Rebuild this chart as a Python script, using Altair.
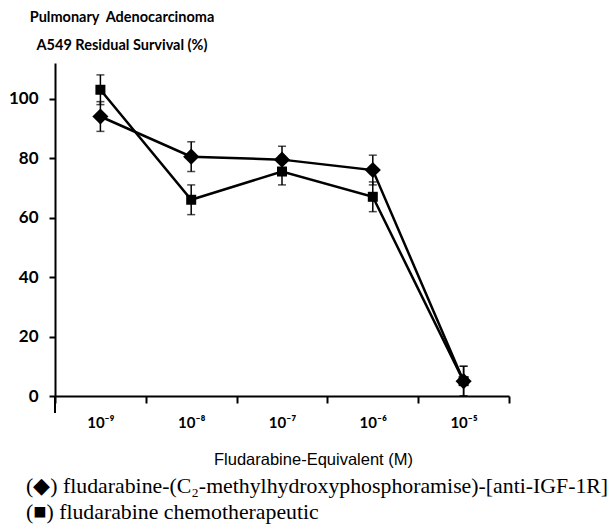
import altair as alt
import pandas as pd

conc = ["10⁻⁹", "10⁻⁸", "10⁻⁷", "10⁻⁶", "10⁻⁵"]
conj_mean = [94, 80.5, 79.5, 76, 5]
conj_err = [5, 5, 4.5, 5, 5]
flu_mean = [103, 66, 75.5, 67, 5]
flu_err = [5, 5, 4.5, 5, 5]

series_conj = "fludarabine-(C2-methylhydroxyphosphoramise)-[anti-IGF-1R]"
series_flu = "fludarabine chemotherapeutic"

rows = []
for c, m, e in zip(conc, conj_mean, conj_err):
    rows.append({"conc": c, "series": series_conj, "mean": m, "lo": m - e, "hi": m + e})
for c, m, e in zip(conc, flu_mean, flu_err):
    rows.append({"conc": c, "series": series_flu, "mean": m, "lo": m - e, "hi": m + e})
df = pd.DataFrame(rows)

W, H = 454, 333

xenc = alt.X(
    "conc:O",
    sort=conc,
    bandPosition=0.5,
    scale=alt.Scale(type="band", paddingInner=0, paddingOuter=0),
    axis=alt.Axis(
        title="Fludarabine-Equivalent (M)",
        titleFont="Liberation Sans",
        titleFontSize=16.5,
        titleFontWeight="normal",
        titleColor="black",
        titleX=258,
        titleY=68,
        titleBaseline="alphabetic",
        titleAnchor="middle",
        labelFont="Lato",
        labelFontSize=15,
        labelFontWeight="bold",
        labelColor="black",
        labelAngle=0,
        labelPadding=19,
        labelBaseline="middle",
        tickBand="extent",
        tickSize=7,
        tickWidth=2,
        tickColor="black",
        domainColor="black",
        domainWidth=2,
    ),
)
yscale = alt.Scale(domain=[0, 112], nice=False, zero=False)
yenc = alt.Y(
    "mean:Q",
    scale=yscale,
    axis=alt.Axis(
        title=None,
        values=[0, 20, 40, 60, 80, 100],
        labelFont="Lato",
        labelFontSize=17,
        labelFontWeight="bold",
        labelColor="black",
        labelPadding=11,
        tickSize=6,
        tickWidth=2,
        tickColor="black",
        domainColor="black",
        domainWidth=2,
        grid=False,
    ),
)

base = alt.Chart(df)

lines = base.mark_line(color="black", strokeWidth=2.5).encode(
    x=xenc, y=yenc, detail="series:N"
)
err = base.mark_rule(color="black", strokeWidth=1.5).encode(
    x=alt.X("conc:O", sort=conc, bandPosition=0.5),
    y=alt.Y("lo:Q", scale=yscale),
    y2="hi:Q",
)
cap_hi = base.mark_tick(color="black", thickness=1.5, size=8, orient="horizontal").encode(
    x=alt.X("conc:O", sort=conc, bandPosition=0.5),
    y=alt.Y("hi:Q", scale=yscale),
)
cap_lo = base.mark_tick(color="black", thickness=1.5, size=8, orient="horizontal").encode(
    x=alt.X("conc:O", sort=conc, bandPosition=0.5),
    y=alt.Y("lo:Q", scale=yscale),
)
pts = base.mark_point(filled=True, color="black", opacity=1).encode(
    x=alt.X("conc:O", sort=conc, bandPosition=0.5),
    y=alt.Y("mean:Q", scale=yscale),
    shape=alt.Shape(
        "series:N",
        scale=alt.Scale(domain=[series_conj, series_flu], range=["diamond", "square"]),
        legend=None,
    ),
    size=alt.Size(
        "series:N",
        scale=alt.Scale(domain=[series_conj, series_flu], range=[260, 100]),
        legend=None,
    ),
)

axis_ext = alt.Chart(pd.DataFrame({"a": [0]})).mark_rule(color="black", strokeWidth=2).encode(
    x=alt.value(0), y=alt.value(H), y2=alt.value(H + 17)
)

title_df = pd.DataFrame({"t": ["Pulmonary\u00a0\u00a0Adenocarcinoma", "A549 Residual Survival (%)"],
                         "py": [-45, -17]})
titles = alt.Chart(title_df).mark_text(
    font="Lato", fontSize=14.5, fontWeight="bold", color="black", align="center", baseline="middle"
).encode(text="t:N", x=alt.value(67), y=alt.Y("py:Q", scale=None))

legend_df = pd.DataFrame({
    "t": ["(◆) fludarabine-(C₂-methylhydroxyphosphoramise)-[anti-IGF-1R]",
          "(■) fludarabine chemotherapeutic"],
    "py": [H + 90, H + 116],
})
legend_txt = alt.Chart(legend_df).mark_text(
    font="Liberation Serif", fontSize=21.8, color="black", align="left", baseline="middle"
).encode(text="t:N", x=alt.value(-29), y=alt.Y("py:Q", scale=None))

chart = alt.layer(lines, err, cap_hi, cap_lo, pts, axis_ext, titles, legend_txt).properties(
    width=W, height=H,
    autosize=alt.AutoSizeParams(type="none"),
    padding={"left": 47, "top": 55, "right": 99, "bottom": 128},
    background="white",
).configure_view(stroke=None)

chart.save("out.html", embed_options={"renderer": "svg", "actions": False})
